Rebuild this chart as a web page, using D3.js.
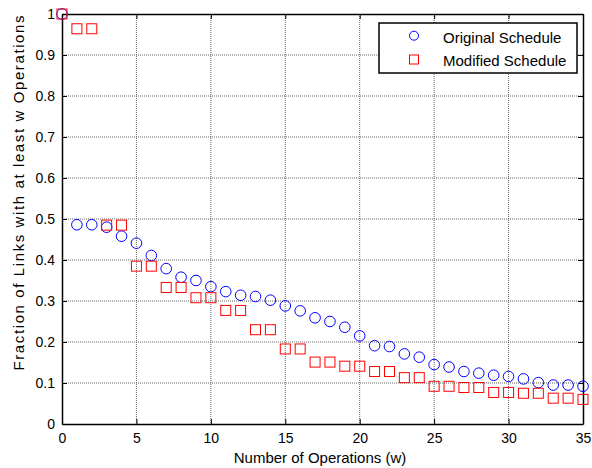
<!DOCTYPE html>
<html>
<head>
<meta charset="utf-8">
<script src="https://cdn.jsdelivr.net/npm/d3@7"></script>
<style>
  body { margin: 0; background: #fff; }
  svg { display: block; font-family: "Liberation Sans", Arial, sans-serif; }
</style>
</head>
<body>
<div id="chart"></div>
<script>
// operations w = 0..35
var ops = d3.range(0, 36);
var original = [1.0, 0.486, 0.486, 0.480, 0.458, 0.441, 0.411, 0.379, 0.358, 0.350,
  0.335, 0.323, 0.314, 0.311, 0.302, 0.288, 0.276, 0.259, 0.250, 0.236,
  0.215, 0.191, 0.189, 0.171, 0.163, 0.145, 0.139, 0.128, 0.124, 0.119,
  0.116, 0.110, 0.101, 0.095, 0.095, 0.092];
var modified = [1.0, 0.964, 0.964, 0.485, 0.485, 0.385, 0.385, 0.333, 0.333, 0.308,
  0.308, 0.277, 0.277, 0.230, 0.230, 0.183, 0.183, 0.151, 0.151, 0.141,
  0.141, 0.128, 0.128, 0.113, 0.113, 0.092, 0.092, 0.089, 0.089, 0.077,
  0.077, 0.075, 0.075, 0.063, 0.063, 0.060];
var xTicks = [0, 5, 10, 15, 20, 25, 30, 35];
var yTicks = [0, 0.1, 0.2, 0.3, 0.4, 0.5, 0.6, 0.7, 0.8, 0.9, 1];
var seriesNames = ["Original Schedule", "Modified Schedule"];

var W = 592, H = 468;
var margin = { top: 14, right: 9, bottom: 44, left: 62 };
var width = W - margin.left - margin.right;
var height = H - margin.top - margin.bottom;

var svg = d3.select("#chart").append("svg")
  .attr("width", W).attr("height", H);
var g = svg.append("g")
  .attr("transform", "translate(" + margin.left + "," + margin.top + ")");

var x = d3.scaleLinear().domain([0, 35]).range([0, width]);
var y = d3.scaleLinear().domain([0, 1]).range([height, 0]);

// grid
g.append("g").selectAll("line.gx")
  .data(xTicks.slice(1, -1)).enter().append("line")
  .attr("x1", d => x(d)).attr("x2", d => x(d))
  .attr("y1", 0).attr("y2", height)
  .style("stroke", "#666").style("stroke-width", 1)
  .style("stroke-dasharray", "1,1");
g.append("g").selectAll("line.gy")
  .data(yTicks.slice(1, -1)).enter().append("line")
  .attr("x1", 0).attr("x2", width)
  .attr("y1", d => y(d)).attr("y2", d => y(d))
  .style("stroke", "#666").style("stroke-width", 1)
  .style("stroke-dasharray", "1,1");

// axes, ticks inward
var fmtY = d => d === 0 ? "0" : d === 1 ? "1" : d3.format(".1f")(d);
var xAxis = g.append("g").attr("transform", "translate(0," + height + ")")
  .call(d3.axisBottom(x).tickValues(xTicks).tickSizeInner(-5).tickSizeOuter(0).tickPadding(9));
var xTop = g.append("g")
  .call(d3.axisTop(x).tickValues(xTicks).tickSizeInner(-5).tickSizeOuter(0).tickFormat(""));
var yAxis = g.append("g")
  .call(d3.axisLeft(y).tickValues(yTicks).tickSizeInner(-5).tickSizeOuter(0).tickPadding(7).tickFormat(fmtY));
var yRight = g.append("g").attr("transform", "translate(" + width + ",0)")
  .call(d3.axisRight(y).tickValues(yTicks).tickSizeInner(-5).tickSizeOuter(0).tickFormat(""));

[xAxis, xTop, yAxis, yRight].forEach(a => {
  a.selectAll("path").style("stroke", "#000").style("stroke-width", 1.5);
  a.selectAll("line").style("stroke", "#000");
  a.selectAll("text").style("font-size", "14px").style("fill", "#000")
    .style("font-family", "'Liberation Sans', Arial, sans-serif");
});

// markers
g.append("g").selectAll("circle")
  .data(original).enter().append("circle")
  .attr("cx", (d, i) => x(ops[i]))
  .attr("cy", d => y(d))
  .attr("r", 5.3)
  .style("fill", "none").style("stroke", "#0000ff").style("stroke-width", 1);

var s = 10;
g.append("g").selectAll("rect")
  .data(modified).enter().append("rect")
  .attr("x", (d, i) => x(ops[i]) - s / 2)
  .attr("y", d => y(d) - s / 2)
  .attr("width", s).attr("height", s)
  .style("fill", "none").style("stroke", "#ff0000").style("stroke-width", 1);

// legend
var lg = svg.append("g").attr("transform", "translate(379,23)");
lg.append("rect").attr("width", 198).attr("height", 50)
  .style("fill", "#fff").style("stroke", "#000").style("stroke-width", 1.5);
lg.append("circle").attr("cx", 35).attr("cy", 12.7).attr("r", 4.5)
  .style("fill", "none").style("stroke", "#0000ff");
lg.append("rect").attr("x", 30.5).attr("y", 32).attr("width", 9).attr("height", 9)
  .style("fill", "none").style("stroke", "#ff0000");
lg.selectAll("text.leg").data(seriesNames).enter().append("text")
  .attr("x", 64).attr("y", (d, i) => 20 + i * 23)
  .style("font-size", "15px").text(d => d);

// axis labels
svg.append("text")
  .attr("x", 320).attr("y", 463)
  .attr("text-anchor", "middle").style("font-size", "15px")
  .text("Number of Operations (w)");
svg.append("text")
  .attr("transform", "translate(24,193) rotate(-90)")
  .attr("text-anchor", "middle").style("font-size", "15px")
  .attr("textLength", 355).attr("lengthAdjust", "spacing")
  .text("Fraction of Links with at least w Operations");
</script>
</body>
</html>
